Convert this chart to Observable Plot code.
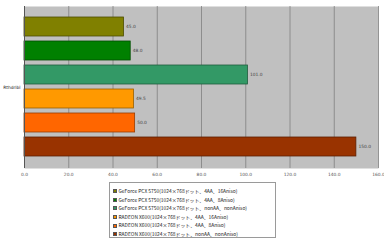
<!DOCTYPE html>
<html><head><meta charset="utf-8">
<script src="https://cdn.jsdelivr.net/npm/d3@7"></script>
<script src="https://cdn.jsdelivr.net/npm/@observablehq/plot@0.6"></script>
<style>
body{margin:0;background:#fff;font-family:"Noto Sans CJK JP","DejaVu Sans",sans-serif;}
#legend{position:absolute;left:109px;top:182px;width:167px;height:56px;border:1px solid #9a9a9a;box-sizing:border-box;padding:4px 0 0 3px;font-size:4.9px;color:#222;}
.li{height:8.6px;line-height:8.6px;white-space:nowrap;display:flex;align-items:center;}
.sw{width:4px;height:4px;margin-right:1.5px;border:0.5px solid #555;box-sizing:border-box;}
</style></head>
<body>
<div id="chart"></div>
<div id="legend"></div>
<script>
const category = "Rthdribl";
const series = [
  "GeForce PCX 5750(1024×768ドット、4AA、16Aniso)",
  "GeForce PCX 5750(1024×768ドット、4AA、8Aniso)",
  "GeForce PCX 5750(1024×768ドット、nonAA、nonAniso)",
  "RADEON X600(1024×768ドット、4AA、16Aniso)",
  "RADEON X600(1024×768ドット、4AA、8Aniso)",
  "RADEON X600(1024×768ドット、nonAA、nonAniso)"
];
const values = [45.0, 48.0, 101.0, 49.5, 50.0, 150.0];
const colors = ["#808000", "#008000", "#339966", "#ff9900", "#ff6600", "#993300"];
const strokes = ["#4d4d00", "#004d00", "#1f5c3d", "#996000", "#993d00", "#5c1f00"];
const xTicks = [0, 20, 40, 60, 80, 100, 120, 140, 160];

const data = series.map((s, i) => ({series: s, value: values[i], color: colors[i], stroke: strokes[i]}));

const chart = Plot.plot({
  width: 384,
  height: 182,
  marginTop: 6,
  marginBottom: 14,
  marginLeft: 24,
  marginRight: 6,
  style: {fontSize: "4.4px", fontFamily: "DejaVu Sans, sans-serif", color: "#555", background: "#fff"},
  x: {domain: [0, 160], ticks: xTicks, tickFormat: d => d.toFixed(1), label: null, tickSize: 0, tickPadding: 4},
  y: {domain: series, paddingInner: 0.19, paddingOuter: 0.455, axis: null},
  marks: [
    Plot.frame({fill: "#c0c0c0", stroke: null}),
    Plot.gridX(xTicks, {stroke: "#808080", strokeOpacity: 1, strokeWidth: 0.8}),
    Plot.barX(data, {y: "series", x: "value", fill: "color", stroke: "stroke", strokeWidth: 0.8}),
    Plot.text(data, {y: "series", x: "value", text: d => d.value.toFixed(1), textAnchor: "start", dx: 2, fontSize: 4.4, fill: "#444"}),
    Plot.ruleX([0], {stroke: "#555", strokeWidth: 1}),
    Plot.ruleY([0], {stroke: "#555", strokeWidth: 1}),
    Plot.text([category], {frameAnchor: "left", dx: -4, textAnchor: "end", text: d => d, fontSize: 4.4, fill: "#222"})
  ]
});
document.getElementById("chart").appendChild(chart);

const legend = d3.select("#legend");
series.forEach((s, i) => {
  const row = legend.append("div").attr("class", "li");
  row.append("div").attr("class", "sw").style("background", colors[i]);
  row.append("span").text(s);
});
</script>
</body></html>
